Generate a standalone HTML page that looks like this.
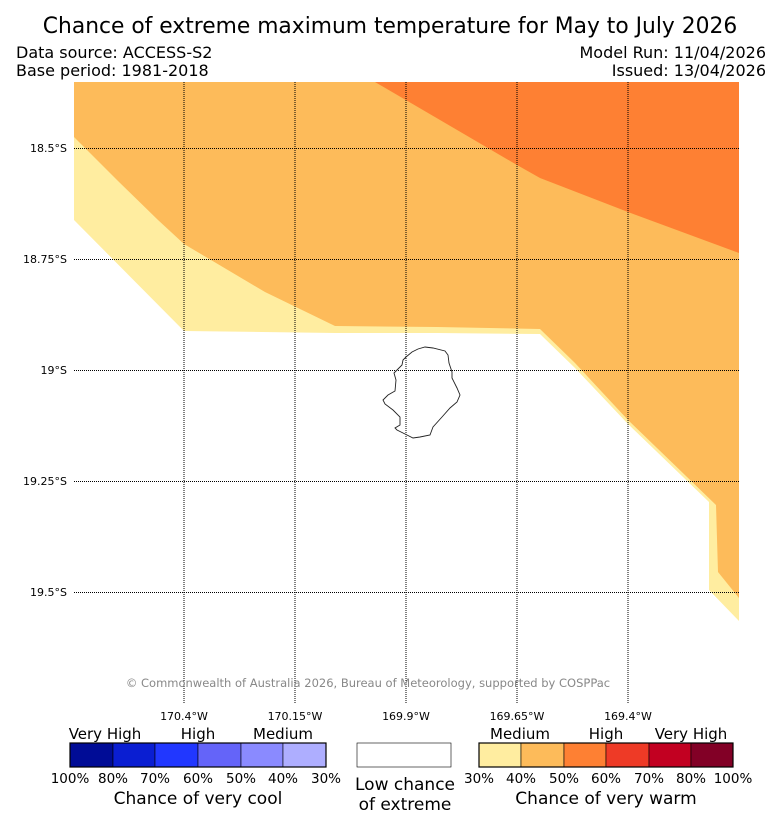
<!DOCTYPE html>
<html><head><meta charset="utf-8"><style>
body{margin:0;background:#fff;width:781px;height:827px;overflow:hidden;font-family:"DejaVu Sans","Liberation Sans",sans-serif}
svg{position:absolute;left:0;top:0}
</style></head><body>
<svg width="781" height="827">
<text x="390" y="33" font-size="21.8" text-anchor="middle">Chance of extreme maximum temperature for May to July 2026</text>
<text x="16" y="58" font-size="16">Data source: ACCESS-S2</text>
<text x="16" y="76" font-size="16">Base period: 1981-2018</text>
<text x="766" y="58" font-size="16" text-anchor="end">Model Run: 11/04/2026</text>
<text x="766" y="76" font-size="16" text-anchor="end">Issued: 13/04/2026</text>
<g>
<polygon fill="#ffeda0" points="74,82 739,82 739,621 709,590 709,502 628,424 575,368 540,334 437,333 335,333 262,332 184,331 74,220"/>
<polygon fill="#fdbb5a" points="74,82 739,82 739,598 718,572 716,505 628,420 575,363 540,329 437,327 335,326 265,292 184,244 158,220 118,181 74,137"/>
<polygon fill="#fe8033" points="375,82 739,82 739,253 628,212 540,178 517,165"/>
<g stroke="#000" stroke-width="1" stroke-dasharray="1,1">
<line x1="184" y1="82" x2="184" y2="703"/><line x1="295" y1="82" x2="295" y2="703"/><line x1="406" y1="82" x2="406" y2="703"/><line x1="517" y1="82" x2="517" y2="703"/><line x1="628" y1="82" x2="628" y2="703"/>
<line x1="74" y1="148.5" x2="739" y2="148.5"/><line x1="74" y1="259.5" x2="739" y2="259.5"/><line x1="74" y1="370.5" x2="739" y2="370.5"/><line x1="74" y1="481.5" x2="739" y2="481.5"/><line x1="74" y1="592.5" x2="739" y2="592.5"/>
</g>
<polygon fill="none" stroke="#222" stroke-width="0.9" points="406,357 412,352 418,349 425,347 433,348 445,351 448,355 449,363 452,372 452,378 457,388 460,395 457,402 450,408 442,417 433,427 430,435 420,437 413,438 407,435 403,433 397,430 395,428 400,425 400,417 393,410 385,404 383,400 388,395 395,391 396,380 394,373 397,370 402,365 403,360"/>
<g font-size="11" text-anchor="end">
<text x="67" y="152">18.5°S</text><text x="67" y="263">18.75°S</text><text x="67" y="374">19°S</text><text x="67" y="485">19.25°S</text><text x="67" y="596">19.5°S</text></g>
<g font-size="11" text-anchor="middle">
<text x="184" y="720">170.4°W</text><text x="295" y="720">170.15°W</text><text x="406" y="720">169.9°W</text><text x="517" y="720">169.65°W</text><text x="628" y="720">169.4°W</text></g>
<text x="368" y="687" font-size="11.5" fill="#888" text-anchor="middle">© Commonwealth of Australia 2026, Bureau of Meteorology, supported by COSPPac</text>
</g>
<g font-size="15">
<g text-anchor="middle">
<text x="105" y="739">Very High</text><text x="198" y="739">High</text><text x="283" y="739">Medium</text>
<text x="520" y="739">Medium</text><text x="606" y="739">High</text><text x="691" y="739">Very High</text>
</g>
<g stroke="#000" stroke-width="0.6">
<rect x="70" y="743" width="43" height="24" fill="#000c96"/><rect x="113" y="743" width="42" height="24" fill="#0a1ed2"/><rect x="155" y="743" width="43" height="24" fill="#2137ff"/><rect x="198" y="743" width="43" height="24" fill="#6464f9"/><rect x="241" y="743" width="42" height="24" fill="#8a8aff"/><rect x="283" y="743" width="43" height="24" fill="#aeaeff"/>
<rect x="357" y="743" width="94" height="24" fill="#fff"/>
<rect x="479" y="743" width="42" height="24" fill="#ffeda0"/><rect x="521" y="743" width="43" height="24" fill="#fdbb5a"/><rect x="564" y="743" width="42" height="24" fill="#fe8033"/><rect x="606" y="743" width="43" height="24" fill="#ee3a26"/><rect x="649" y="743" width="42" height="24" fill="#c20021"/><rect x="691" y="743" width="42" height="24" fill="#820026"/>
</g>
<rect x="70" y="743" width="256" height="24" fill="none" stroke="#000" stroke-width="1.2"/>
<rect x="479" y="743" width="254" height="24" fill="none" stroke="#000" stroke-width="1.2"/>
<g font-size="13.5" text-anchor="middle">
<text x="70" y="783">100%</text><text x="113" y="783">80%</text><text x="155" y="783">70%</text><text x="198" y="783">60%</text><text x="241" y="783">50%</text><text x="283" y="783">40%</text><text x="326" y="783">30%</text>
<text x="479" y="783">30%</text><text x="521" y="783">40%</text><text x="564" y="783">50%</text><text x="606" y="783">60%</text><text x="649" y="783">70%</text><text x="691" y="783">80%</text><text x="733" y="783">100%</text>
</g>
<g font-size="17" text-anchor="middle">
<text x="198" y="804">Chance of very cool</text>
<text x="405" y="790">Low chance</text><text x="405" y="810">of extreme</text>
<text x="606" y="804">Chance of very warm</text>
</g>
</g>
</svg>
</body></html>
